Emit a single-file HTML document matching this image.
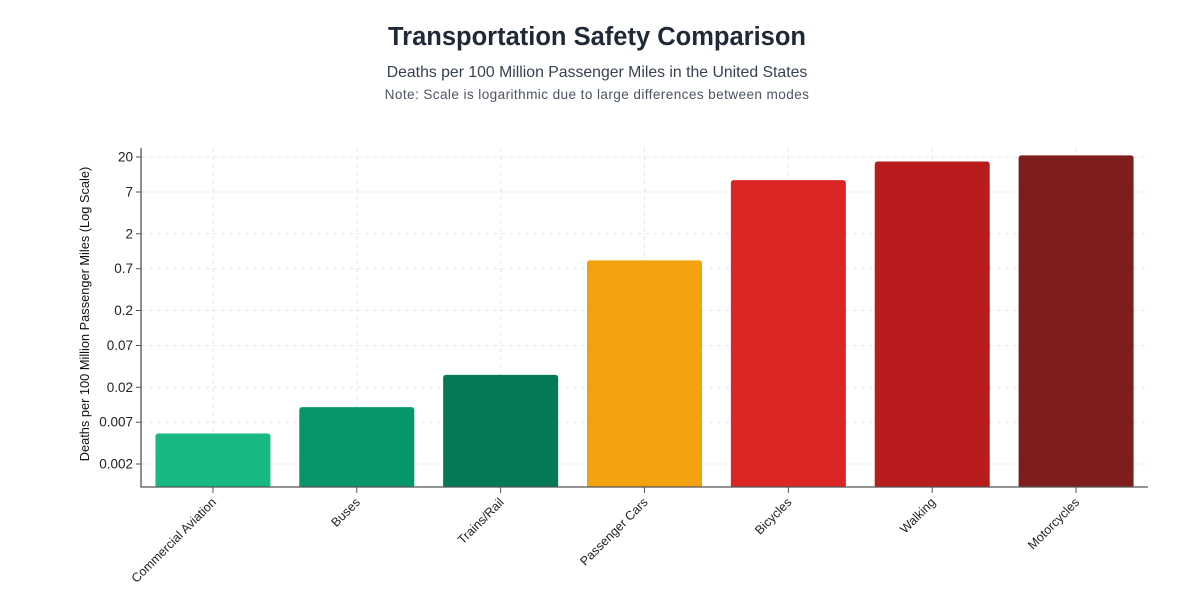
<!DOCTYPE html>
<html><head><meta charset="utf-8"><style>
body{margin:0;background:#fff;width:1199px;height:602px;overflow:hidden;font-family:"Liberation Sans",sans-serif}
</style></head><body>
<svg width="1199" height="602" xmlns="http://www.w3.org/2000/svg">
<text x="597" y="45" text-anchor="middle" font-size="25.5" font-weight="bold" fill="#1f2937">Transportation Safety Comparison</text>
<text x="597" y="77" text-anchor="middle" font-size="15.8" fill="#374151">Deaths per 100 Million Passenger Miles in the United States</text>
<text x="597" y="99" text-anchor="middle" font-size="13.6" letter-spacing="0.4" fill="#4b5563">Note: Scale is logarithmic due to large differences between modes</text>
<g id="plot"></g>
<text transform="translate(89,314) rotate(-90)" text-anchor="middle" font-size="12.8" fill="#111">Deaths per 100 Million Passenger Miles (Log Scale)</text>
</svg>
<script>
const categories=["Commercial Aviation","Buses","Trains/Rail","Passenger Cars","Bicycles","Walking","Motorcycles"];
const values=[0.005,0.011,0.029,0.9,10,17.5,21];
const colors=["#16b981","#079669","#047857","#f3a10e","#dc2626","#b91c1c","#7f1d1d"];
const yTicks=[20,7,2,0.7,0.2,0.07,0.02,0.007,0.002];
const L=141,R=1148,T=148,B=487;
const pxPerDec=76.75;
function y(v){return 157+(Math.log10(20)-Math.log10(v))*pxPerDec;}
const band=(R-L)/categories.length;
function xc(i){return L+band*(i+0.5);}
const ns="http://www.w3.org/2000/svg";
const g=document.getElementById('plot');
function mk(t,a){const e=document.createElementNS(ns,t);for(const k in a)e.setAttribute(k,a[k]);g.appendChild(e);return e;}
yTicks.forEach(t=>{
 const l=mk('line',{x1:L,x2:R,y1:y(t),y2:y(t),stroke:'#e5e7eb','stroke-dasharray':'4 4'});
 
 
 const tk=mk('line',{x1:L-5,x2:L,y1:y(t),y2:y(t),stroke:'#555'});
 
 
 const tx=mk('text',{x:L-8,y:y(t)+4.5,'text-anchor':'end','font-size':13.5,fill:'#222'});
 tx.textContent=t;
 
 
});
categories.forEach((c,i)=>{
 const vl=mk('line',{x1:xc(i),x2:xc(i),y1:T,y2:B,stroke:'#e5e7eb','stroke-dasharray':'4 4'});
 
 
});
categories.forEach((c,i)=>{
 const w=115,top=y(values[i]);
 const r=mk('path',{d:`M${xc(i)-w/2},${B}V${top+3}Q${xc(i)-w/2},${top} ${xc(i)-w/2+3},${top}H${xc(i)+w/2-3}Q${xc(i)+w/2},${top} ${xc(i)+w/2},${top+3}V${B}Z`,fill:colors[i]});
 
 
 const tk=mk('line',{x1:xc(i),x2:xc(i),y1:B,y2:B+6,stroke:'#555'});
 
 
 const tx=mk('text',{transform:`translate(${xc(i)+4},${B+16}) rotate(-45)`,'text-anchor':'end','font-size':12.5,fill:'#222'});
 tx.textContent=c;
 
 
});
const ax=mk('path',{d:`M${L},${T}V${B}H${R}`,fill:'none',stroke:'#555','stroke-width':1.3});


</script>
</body></html>
